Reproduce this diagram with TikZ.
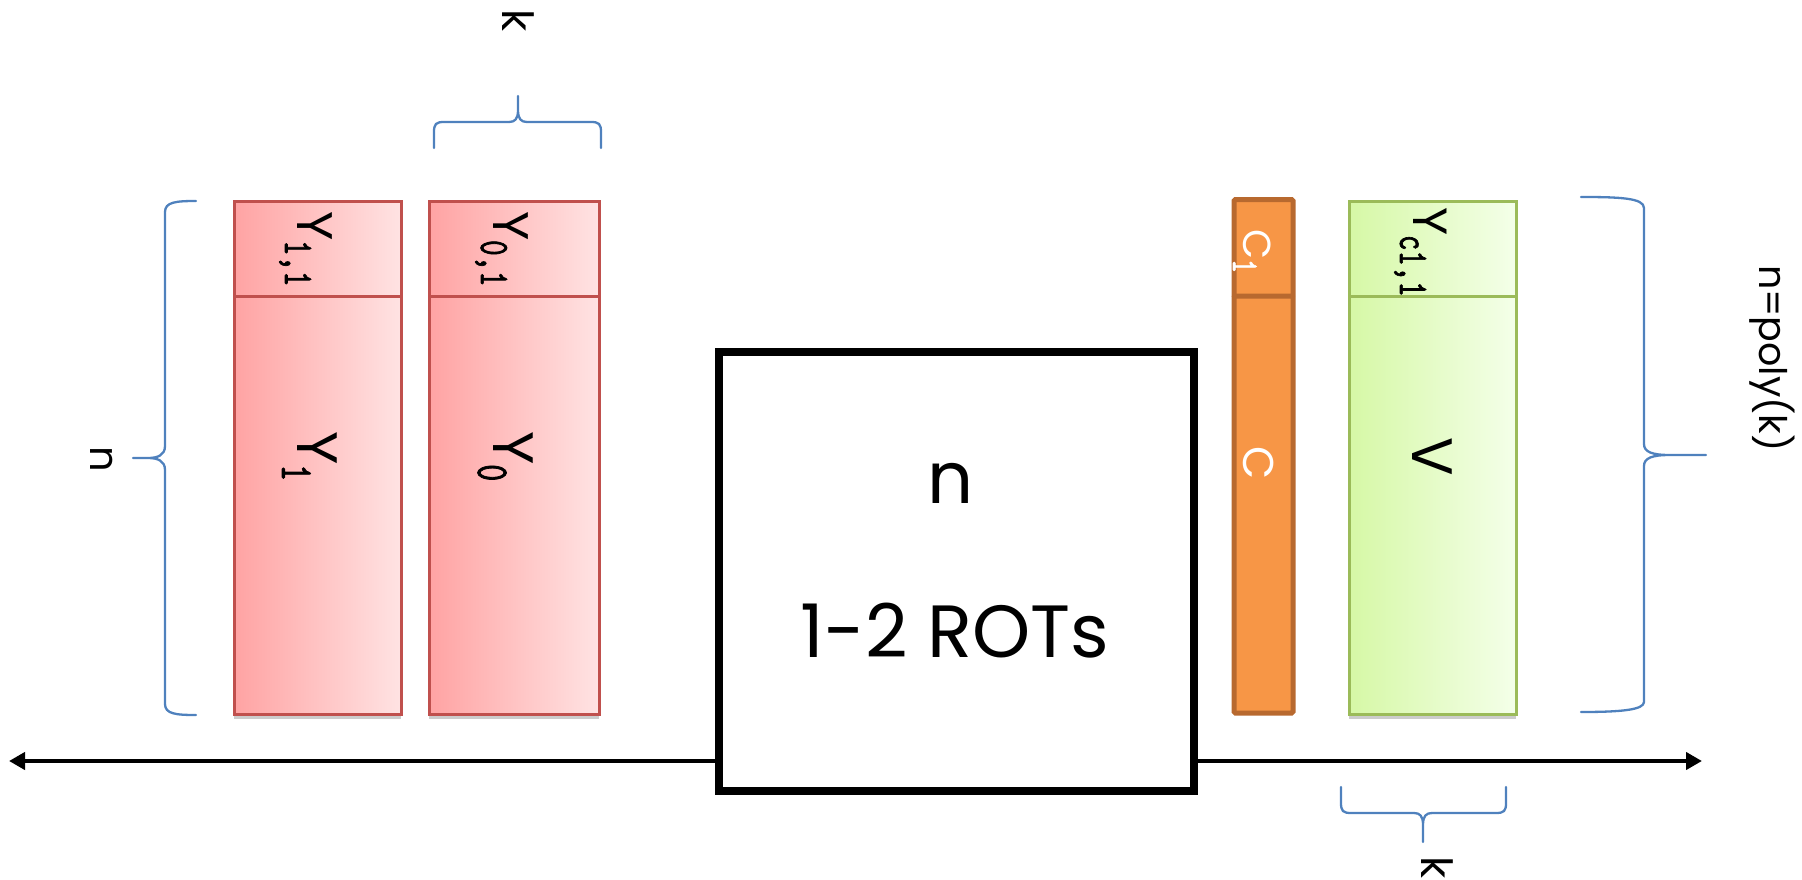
\documentclass[tikz,border=0pt]{standalone}
\usepackage{fontspec}
\setmainfont{Poppins}
\newfontfamily\subfont[FakeStretch=0.7,FakeBold=1.5]{lmmono10-regular.otf}
\usetikzlibrary{arrows.meta,shadows}
\definecolor{redb}{HTML}{C0504D}
\definecolor{redl}{HTML}{FFA3A3}
\definecolor{redr}{HTML}{FFE3E3}
\definecolor{grb}{HTML}{9BBB59}
\definecolor{grl}{HTML}{D6F8A6}
\definecolor{grr}{HTML}{F4FFE9}
\definecolor{orf}{HTML}{F79646}
\definecolor{orb}{HTML}{B8692F}
\definecolor{brc}{HTML}{4F81BD}
\tikzset{
  shd/.style={drop shadow={shadow xshift=0pt,shadow yshift=-5pt,opacity=0.2,fill=black}},
  redbox/.style={rectangle,draw=redb,line width=3pt,left color=redl,right color=redr,inner sep=0pt,shd},
  grbox/.style={rectangle,draw=grb,line width=3pt,left color=grl,right color=grr,inner sep=0pt,shd},
  orbox/.style={rectangle,draw=orb,line width=5pt,fill=orf,inner sep=0pt,rounded corners=1.5pt},
  rotbox/.style={rectangle,draw=black,line width=8pt,fill=white,inner sep=0pt,
     drop shadow={shadow xshift=0pt,shadow yshift=-3pt,opacity=0.3,fill=black}},
  lbl/.style={rotate=-90,anchor=base west,inner sep=0pt,outer sep=0pt},
  bracket/.style={draw=brc,line width=2.3pt,line join=round,line cap=round},
  axis/.style={draw=black,line width=4.5pt,-{Triangle[length=16pt,width=17pt]}}
}
\begin{document}
\begin{tikzpicture}[x=1pt,y=-1pt]
\useasboundingbox (0,0) rectangle (1802,880);
% red columns
\node[redbox,minimum width=167pt,minimum height=95pt] (y1h) at (317.5,248.5) {};
\node[redbox,minimum width=167pt,minimum height=418pt] (y1b) at (317.5,505) {};
\node[redbox,minimum width=170pt,minimum height=95pt] (y0h) at (514,248.5) {};
\node[redbox,minimum width=170pt,minimum height=418pt] (y0b) at (514,505) {};
% orange column
\node[orbox,minimum width=59pt,minimum height=97pt] (ch) at (1263.5,248) {};
\node[orbox,minimum width=59pt,minimum height=417pt] (cb) at (1263.5,504.5) {};
% green column
\node[grbox,minimum width=167pt,minimum height=95pt] (vh) at (1432.5,248.5) {};
\node[grbox,minimum width=167pt,minimum height=418pt] (vb) at (1432.5,505) {};
% central box
\node[rotbox,minimum width=475pt,minimum height=439pt] (rot) at (956.5,571.5) {};
\node[anchor=base,inner sep=0pt,font=\fontsize{72}{72}\selectfont] (rn) at (951,503) {n};
\node[anchor=base,inner sep=0pt,font=\fontsize{74}{74}\selectfont] (rl) at (955,657) {1-2 ROTs};
% axis
\coordinate (aL) at (9,761);
\coordinate (aR) at (1702,761);
\draw[axis] (rot.west |- aL) -- (aL);
\draw[axis] (rot.east |- aR) -- (aR);
% column labels
\node[lbl] (t11) at (297,211) {\fontsize{50}{50}\selectfont Y\raisebox{-12pt}{\subfont\fontsize{42}{42}\selectfont 1,1}};
\node[lbl] (t01) at (493,211) {\fontsize{50}{50}\selectfont Y\raisebox{-12pt}{\subfont\fontsize{42}{42}\selectfont 0,1}};
\node[lbl] (ty1) at (297,431) {\fontsize{57}{57}\selectfont Y\raisebox{-15pt}{\subfont\fontsize{46}{46}\selectfont 1}};
\node[lbl] (ty0) at (493,431) {\fontsize{57}{57}\selectfont Y\raisebox{-15pt}{\subfont\fontsize{46}{46}\selectfont 0}};
\node[lbl,text=white] (tc1) at (1243,229) {\fontsize{39}{39}\selectfont C\raisebox{-10pt}{\subfont\fontsize{38}{38}\selectfont 1}};
\node[lbl,text=white] (tc) at (1243,446) {\fontsize{43}{43}\selectfont C};
\node[lbl] (tyc) at (1413,207) {\fontsize{48}{48}\selectfont Y\raisebox{-13pt}{\subfont\fontsize{42}{42}\selectfont c1,1}};
\node[lbl] (tv) at (1412,437) {\fontsize{57}{57}\selectfont V};
% braces
\draw[bracket] (196,201) .. controls (176,201) and (165,202) .. (165,212) -- (165,446)
  .. controls (165,455) and (158,458) .. (148,458) -- (133,458)
  (148,458) .. controls (158,458) and (165,461) .. (165,470) -- (165,704)
  .. controls (165,714) and (176,715) .. (196,715);
\draw[bracket] (1581,197) .. controls (1620,197) and (1644,198) .. (1644,208) -- (1644,444)
  .. controls (1644,452) and (1652,455) .. (1670,455) -- (1706,455)
  (1670,455) .. controls (1652,455) and (1644,458) .. (1644,466) -- (1644,702)
  .. controls (1644,710) and (1620,712) .. (1581,712);
\draw[bracket] (434,148) -- (434,132) .. controls (434,124) and (436,122) .. (444,122) -- (509,122)
  .. controls (515,122) and (518,119) .. (518,110) -- (518,96)
  (518,110) .. controls (518,119) and (521,122) .. (527,122) -- (591,122)
  .. controls (599,122) and (601,124) .. (601,132) -- (601,148);
\draw[bracket] (1341,787) -- (1341,803) .. controls (1341,811) and (1343,813) .. (1351,813) -- (1414,813)
  .. controls (1420,813) and (1423,816) .. (1423,825) -- (1423,842)
  (1423,825) .. controls (1423,816) and (1426,813) .. (1432,813) -- (1496,813)
  .. controls (1504,813) and (1506,811) .. (1506,803) -- (1506,787);
% brace labels
\node[lbl] (kt) at (502,10) {\fontsize{43}{43}\selectfont k};
\node[lbl] (nl) at (90,446) {\fontsize{40}{40}\selectfont n};
\node[lbl] (np) at (1759,265) {\fontsize{38}{38}\selectfont n=poly(k)};
\node[lbl] (kb) at (1421,856) {\fontsize{43}{43}\selectfont k};
\end{tikzpicture}
\end{document}
